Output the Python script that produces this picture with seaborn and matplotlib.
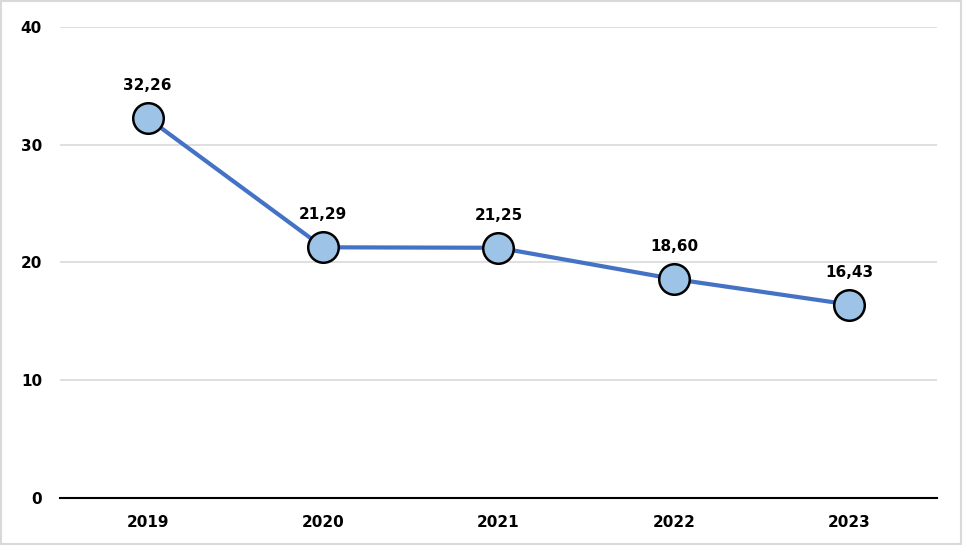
import matplotlib
matplotlib.use("Agg")
import matplotlib.pyplot as plt
import seaborn as sns
import pandas as pd
from matplotlib.patches import Rectangle

years = ["2019", "2020", "2021", "2022", "2023"]
values = [32.26, 21.29, 21.25, 18.60, 16.43]
labels = ["32,26", "21,29", "21,25", "18,60", "16,43"]
yticks = [0, 10, 20, 30, 40]

df = pd.DataFrame({"pos": range(len(years)), "year": years, "value": values})

sns.set_theme(style="white")
plt.rcParams["font.family"] = ["DejaVu Sans"]

fig = plt.figure(figsize=(9.63, 5.45), dpi=100)
ax = fig.add_axes([0.0623, 0.0862, 0.9107, 0.8643])

sns.lineplot(data=df, x="pos", y="value", ax=ax, color="#4472C4", linewidth=3,
             marker="o", markersize=22, markerfacecolor="#9DC3E6",
             markeredgecolor="black", markeredgewidth=1.8, zorder=3)

for i, (v, t) in enumerate(zip(values, labels)):
    ax.annotate(t, (i, v), xytext=(0, 18), textcoords="offset points",
                ha="center", va="bottom", fontsize=11, fontweight="bold",
                color="black")

ax.set_xlim(-0.5, len(years) - 0.5)
ax.set_ylim(0, 40)
ax.set_yticks(yticks)
ax.set_yticklabels([str(t) for t in yticks])
ax.set_xticks(range(len(years)))
ax.set_xticklabels(years)
ax.set_xlabel("")
ax.set_ylabel("")
ax.tick_params(axis="both", length=0, labelsize=11, colors="black")
ax.tick_params(axis="y", pad=13)
ax.tick_params(axis="x", pad=12)
for lab in ax.get_xticklabels() + ax.get_yticklabels():
    lab.set_fontweight("bold")

ax.yaxis.grid(True, color="#d9d9d9", linewidth=1.2)
ax.set_axisbelow(True)
for s in ["top", "right", "left"]:
    ax.spines[s].set_visible(False)
ax.spines["bottom"].set_color("black")
ax.spines["bottom"].set_linewidth(1.5)
ax.spines["bottom"].set_zorder(2)

fig.patches.append(Rectangle((0.001, 0.002), 0.997, 0.996, transform=fig.transFigure,
                             fill=False, edgecolor="#d9d9d9", linewidth=1.5))

fig.savefig("out.png", dpi=100)
